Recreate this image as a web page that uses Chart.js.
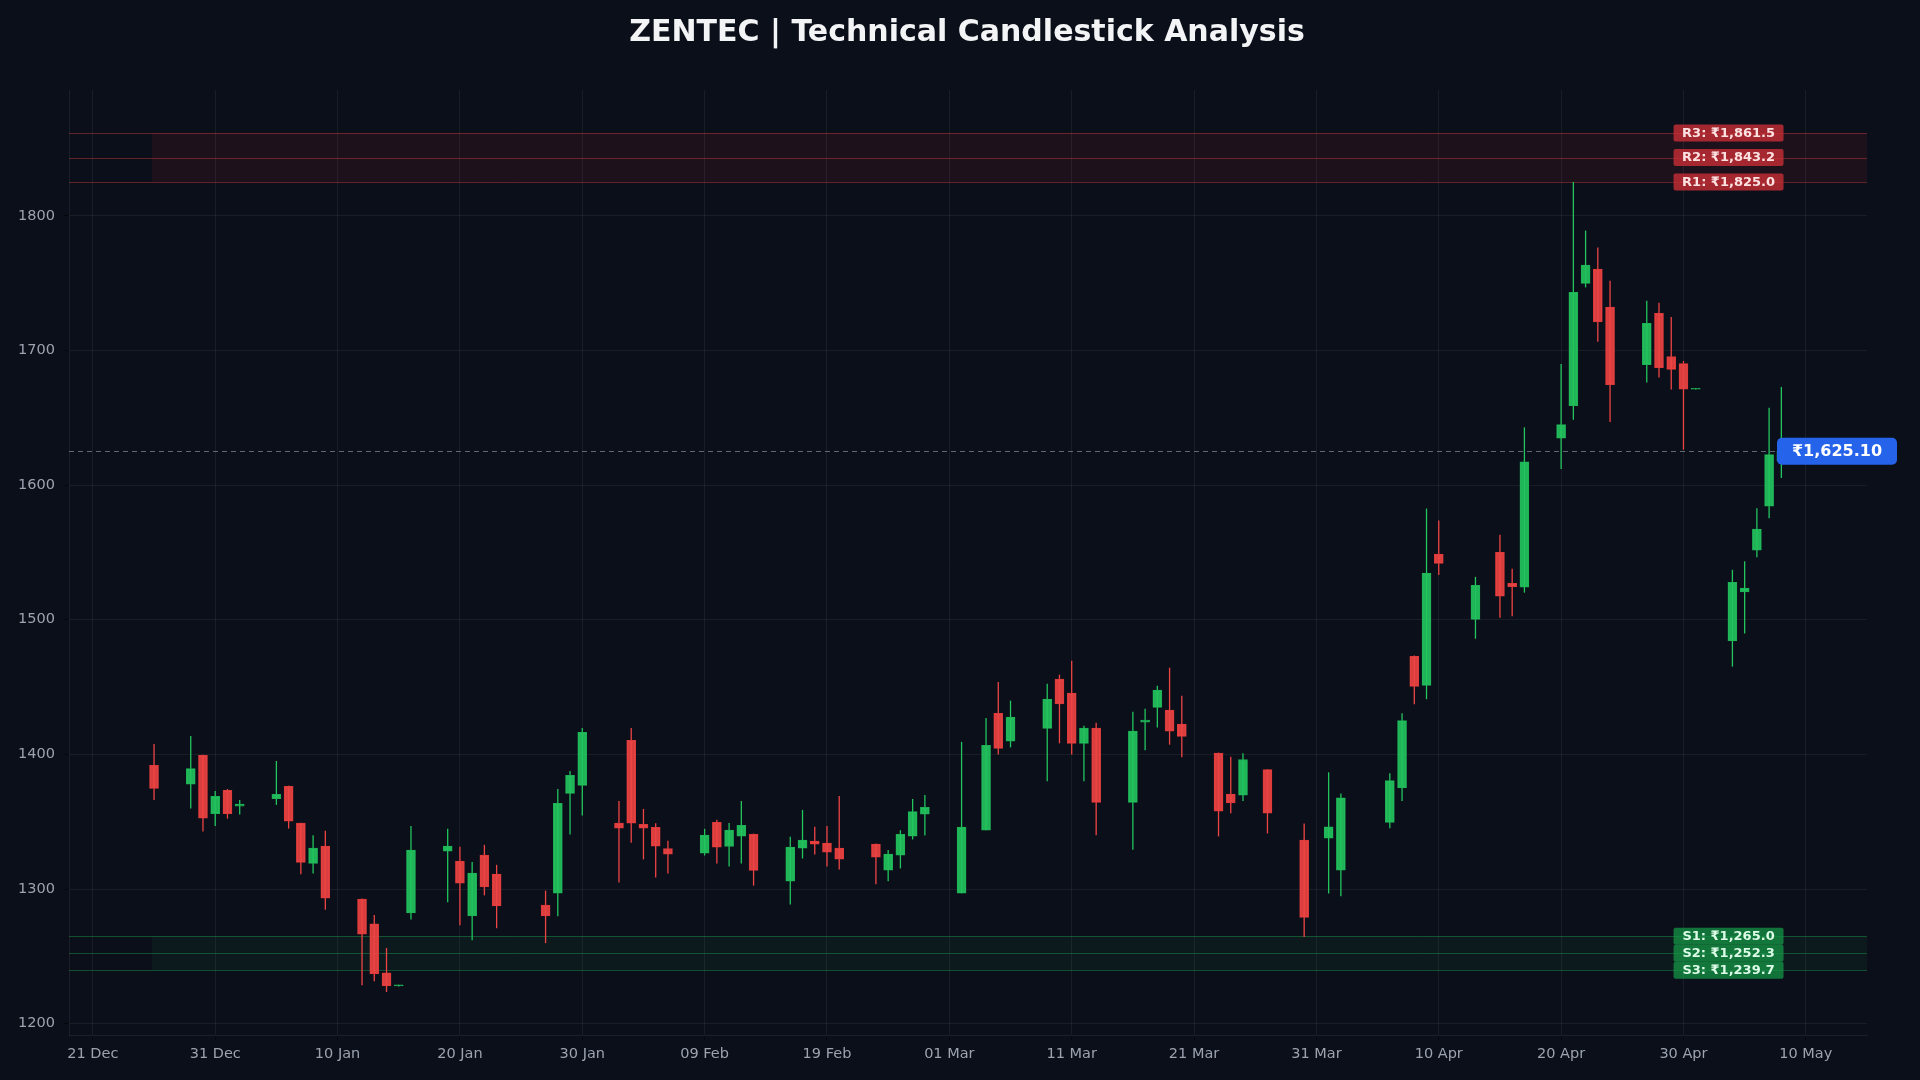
<!DOCTYPE html>
<html><head><meta charset="utf-8">
<script src="https://cdn.jsdelivr.net/npm/chart.js@4.4.1/dist/chart.umd.min.js"></script>
<style>html,body{margin:0;padding:0;background:#0b0f19;overflow:hidden}#wrap{width:1920px;height:1080px}</style>
</head><body><div id="wrap"><canvas id="c" width="1920" height="1080"></canvas></div>
<script>
// ---------- DATA ----------
const dates = ['2025-12-26','2025-12-29','2025-12-30','2025-12-31','2026-01-01','2026-01-02','2026-01-05','2026-01-06','2026-01-07','2026-01-08','2026-01-09','2026-01-12','2026-01-13','2026-01-14','2026-01-15','2026-01-16','2026-01-19','2026-01-20','2026-01-21','2026-01-22','2026-01-23','2026-01-27','2026-01-28','2026-01-29','2026-01-30','2026-02-02','2026-02-03','2026-02-04','2026-02-05','2026-02-06','2026-02-09','2026-02-10','2026-02-11','2026-02-12','2026-02-13','2026-02-16','2026-02-17','2026-02-18','2026-02-19','2026-02-20','2026-02-23','2026-02-24','2026-02-25','2026-02-26','2026-02-27','2026-03-02','2026-03-04','2026-03-05','2026-03-06','2026-03-09','2026-03-10','2026-03-11','2026-03-12','2026-03-13','2026-03-16','2026-03-17','2026-03-18','2026-03-19','2026-03-20','2026-03-23','2026-03-24','2026-03-25','2026-03-27','2026-03-30','2026-04-01','2026-04-02','2026-04-06','2026-04-07','2026-04-08','2026-04-09','2026-04-10','2026-04-13','2026-04-15','2026-04-16','2026-04-17','2026-04-20','2026-04-21','2026-04-22','2026-04-23','2026-04-24','2026-04-27','2026-04-28','2026-04-29','2026-04-30','2026-05-01','2026-05-04','2026-05-05','2026-05-06','2026-05-07','2026-05-08'];
const opens  = [1391.9,1377.8,1399.3,1356.0,1373.3,1361.5,1367.2,1376.3,1348.9,1319.0,1331.9,1292.6,1274.1,1237.8,1228.0,1282.2,1328.1,1320.7,1280.0,1325.2,1311.1,1288.1,1297.0,1371.1,1377.0,1348.9,1410.4,1348.1,1345.9,1330.1,1326.7,1349.6,1331.6,1339.3,1340.7,1305.9,1330.4,1335.6,1334.1,1330.4,1333.3,1314.1,1325.2,1339.3,1355.6,1297.0,1343.8,1430.5,1409.9,1419.3,1455.9,1445.5,1408.2,1419.6,1364.4,1424.0,1434.9,1432.9,1422.5,1401.0,1370.5,1369.7,1388.7,1336.4,1337.7,1314.1,1349.5,1375.1,1472.8,1451.3,1548.7,1500.3,1550.1,1527.1,1524.1,1634.9,1658.9,1749.8,1760.4,1732.1,1689.5,1727.5,1695.5,1690.2,1671.2,1484.2,1520.6,1551.7,1584.4,1618.0];
const highs  = [1407.7,1413.6,1399.8,1372.8,1374.3,1366.2,1395.1,1376.8,1349.3,1340.0,1343.2,1293.0,1280.7,1256.3,1229.0,1346.9,1344.7,1331.4,1320.0,1332.8,1318.0,1298.8,1374.3,1387.7,1419.5,1365.4,1419.5,1359.5,1348.9,1335.8,1344.7,1351.4,1349.1,1365.4,1341.2,1338.8,1358.8,1346.2,1346.9,1369.1,1333.8,1328.9,1343.7,1366.9,1369.9,1409.3,1427.0,1453.8,1439.9,1452.5,1459.2,1469.6,1421.3,1423.5,1431.7,1433.9,1451.0,1464.4,1443.6,1401.3,1398.3,1400.8,1389.0,1348.7,1386.7,1371.0,1385.9,1430.5,1473.5,1582.6,1573.6,1531.8,1563.1,1537.8,1642.9,1689.9,1825.0,1789.0,1776.4,1751.7,1736.8,1735.4,1724.8,1692.2,1671.9,1537.1,1543.4,1582.7,1657.5,1672.9];
const lows   = [1366.2,1359.8,1342.7,1346.9,1352.3,1355.3,1362.5,1344.9,1310.9,1311.6,1284.7,1228.6,1231.6,1223.5,1227.6,1277.3,1290.1,1273.1,1262.0,1295.3,1270.9,1259.8,1279.8,1340.5,1354.6,1304.9,1334.3,1322.0,1308.6,1311.6,1324.9,1319.0,1316.8,1319.0,1302.5,1288.6,1322.7,1325.7,1316.8,1314.6,1303.5,1305.7,1315.3,1336.8,1339.8,1296.8,1343.6,1399.9,1405.2,1380.0,1408.2,1400.0,1380.0,1339.9,1329.2,1403.0,1420.0,1407.2,1397.8,1339.1,1356.2,1365.4,1341.3,1264.4,1296.7,1294.6,1345.1,1365.4,1437.2,1441.0,1533.3,1485.9,1501.5,1502.5,1520.1,1611.9,1648.6,1746.8,1706.5,1646.9,1676.2,1679.9,1670.9,1626.3,1671.0,1465.2,1489.8,1546.4,1575.4,1605.3];
const closes = [1374.8,1389.4,1352.6,1368.9,1356.0,1363.0,1370.4,1350.4,1319.8,1330.4,1293.3,1266.4,1237.0,1228.1,1228.8,1328.9,1331.9,1304.4,1311.9,1301.5,1287.4,1280.0,1363.7,1384.4,1416.3,1345.2,1348.9,1345.2,1331.9,1325.9,1340.0,1331.1,1343.7,1347.4,1313.8,1331.1,1336.3,1333.3,1327.4,1322.2,1323.7,1325.9,1340.7,1357.5,1360.7,1346.0,1406.8,1404.5,1427.7,1441.1,1437.4,1408.2,1419.6,1364.4,1417.3,1425.5,1447.8,1417.3,1413.4,1357.9,1363.9,1396.2,1356.4,1279.0,1346.2,1367.7,1380.5,1425.1,1450.5,1534.6,1541.8,1525.6,1517.5,1524.5,1617.3,1644.9,1743.1,1763.4,1721.1,1674.5,1720.1,1687.2,1685.9,1671.2,1671.8,1527.8,1523.5,1567.4,1622.6,1625.1];

const resistanceNames = ['R1','R2','R3'];
const resistanceLevels = [1825.0, 1843.2, 1861.5];
const supportNames = ['S1','S2','S3'];
const supportLevels = [1265.0, 1252.3, 1239.7];
const currentPrice = 1625.10;

const xTickDays = [0,10,20,30,40,50,60,70,80,90,100,110,120,130,140];
const xTickLabels = ['21 Dec','31 Dec','10 Jan','20 Jan','30 Jan','09 Feb','19 Feb','01 Mar','11 Mar','21 Mar','31 Mar','10 Apr','20 Apr','30 Apr','10 May'];
const yTicks = [1200,1300,1400,1500,1600,1700,1800];
const titleText = 'ZENTEC | Technical Candlestick Analysis';

// ---------- helpers ----------
const BASE = Date.UTC(2025, 11, 21);
const dayOf = s => { const [Y,M,D] = s.split('-').map(Number); return (Date.UTC(Y, M-1, D) - BASE) / 86400000; };
const days = dates.map(dayOf);
function fmtRupee(v, dec){
  const parts = v.toFixed(dec).split('.');
  const i = parts[0];
  const out = i.length > 3 ? i.slice(0, i.length-3).replace(/\B(?=(\d{2})+(?!\d))/g, ',') + ',' + i.slice(-3) : i;
  return '\u20B9' + out + (dec ? '.' + parts[1] : '');
}

const BG = '#0b0f19';
const UP = 'rgba(34,197,94,0.9)', UP_B = '#1fae55';
const DN = 'rgba(239,68,68,0.9)', DN_B = '#d93a3a';
const isUp = i => closes[i] >= opens[i];

const wickData = days.map((d,i) => ({x: d, y: [lows[i], highs[i]]}));
const bodyData = days.map((d,i) => ({x: d, y: [opens[i], closes[i]]}));

Chart.defaults.font.family = "'DejaVu Sans', sans-serif";

const bgPlugin = {
  id: 'bg',
  beforeDraw(chart){
    const c = chart.ctx; c.save();
    c.fillStyle = BG; c.fillRect(0,0,chart.width,chart.height);
    c.fillStyle = '#f3f4f6';
    c.font = "bold 30px 'DejaVu Sans'";
    c.textAlign = 'center'; c.textBaseline = 'middle';
    c.fillText(titleText, 967, 33);
    c.restore();
  }
};

function badgeBox(chart){
  const a = chart.chartArea;
  return {x: a.right - 90, w: 120, h: 27};
}

const levelsPlugin = {
  id: 'levels',
  beforeDatasetsDraw(chart){
    const {ctx, chartArea: a, scales: {x, y}} = chart;
    const xStart = x.getPixelForValue(days[0]) - 2;
    ctx.save();
    ctx.beginPath(); ctx.rect(a.left, a.top, a.right - a.left, a.bottom - a.top); ctx.clip();
    function zone(levels, fill, line){
      const ys = levels.map(v => y.getPixelForValue(v));
      const top = Math.min(...ys), bot = Math.max(...ys);
      ctx.fillStyle = fill;
      ctx.fillRect(xStart, top, a.right - xStart, bot - top);
      ctx.strokeStyle = line; ctx.lineWidth = 1;
      ys.forEach(py => { ctx.beginPath(); ctx.moveTo(a.left, Math.round(py)+0.5); ctx.lineTo(a.right, Math.round(py)+0.5); ctx.stroke(); });
    }
    zone(resistanceLevels, 'rgba(239,68,68,0.08)', 'rgba(239,68,68,0.38)');
    zone(supportLevels, 'rgba(34,197,94,0.06)', 'rgba(34,197,94,0.35)');
    const py = Math.round(y.getPixelForValue(currentPrice)) + 0.5;
    ctx.setLineDash([5,4]);
    ctx.strokeStyle = 'rgba(156,163,175,0.6)';
    ctx.beginPath(); ctx.moveTo(a.left, py); ctx.lineTo(badgeBox(chart).x, py); ctx.stroke();
    ctx.restore();
  },
  afterDatasetsDraw(chart){
    const {ctx, chartArea: a, scales: {y}} = chart;
    ctx.save();
    const cx = a.left + (a.right - a.left) * 0.923;
    ctx.font = "bold 13px 'DejaVu Sans'";
    ctx.textAlign = 'center'; ctx.textBaseline = 'middle';
    function labels(names, levels, fill, txt){
      levels.forEach((v,i) => {
        const py = y.getPixelForValue(v);
        const w = 110, h = 17;
        ctx.fillStyle = fill;
        ctx.beginPath(); ctx.roundRect(cx - w/2, py - h/2, w, h, 2); ctx.fill();
        ctx.fillStyle = txt;
        ctx.fillText(names[i] + ': ' + fmtRupee(v, 1), cx, py + 0.5);
      });
    }
    labels(resistanceNames, resistanceLevels, 'rgba(200,45,52,0.8)', '#fde2e2');
    labels(supportNames, supportLevels, 'rgba(22,150,70,0.75)', '#dcfce7');
    const b = badgeBox(chart);
    const py = y.getPixelForValue(currentPrice);
    ctx.fillStyle = '#2563eb';
    ctx.beginPath(); ctx.roundRect(b.x, py - b.h/2, b.w, b.h, 5); ctx.fill();
    ctx.fillStyle = '#ffffff';
    ctx.font = "bold 16px 'DejaVu Sans'";
    ctx.fillText(fmtRupee(currentPrice, 2), b.x + b.w/2, py + 0.5);
    ctx.restore();
  }
};

new Chart(document.getElementById('c'), {
  type: 'bar',
  data: {
    datasets: [
      {
        label: 'body', data: bodyData, order: 0, grouped: false,
        barThickness: 9, borderWidth: 1, borderSkipped: false,
        backgroundColor: c => isUp(c.dataIndex) ? UP : DN,
        borderColor: c => isUp(c.dataIndex) ? UP_B : DN_B
      },
      {
        label: 'wick', data: wickData, order: 1, grouped: false,
        barThickness: 1.3, borderWidth: 0, inflateAmount: 0,
        backgroundColor: c => isUp(c.dataIndex) ? '#22c55e' : '#ef4444'
      }
    ]
  },
  options: {
    responsive: false, animation: false, devicePixelRatio: 1,
    layout: { padding: { left: 0, right: 53, top: 90, bottom: 0 } },
    plugins: { legend: { display: false }, tooltip: { enabled: false }, title: { display: false } },
    scales: {
      x: {
        type: 'linear', min: -1.95, max: 145, offset: false,
        afterBuildTicks: s => { s.ticks = xTickDays.map(v => ({value: v})); },
        afterFit: s => { s.height = 45; },
        ticks: { color: '#9ca3af', font: { size: 14.5 }, padding: 5, maxRotation: 0, autoSkip: false,
          callback: (v, i) => xTickLabels[i] },
        grid: { offset: false, color: 'rgba(255,255,255,0.06)', tickColor: '#05070c', tickLength: 6 },
        border: { color: 'rgba(255,255,255,0.07)' }
      },
      y: {
        type: 'linear', min: 1191.6, max: 1893.4,
        afterBuildTicks: s => { s.ticks = yTicks.map(v => ({value: v})); },
        afterFit: s => { s.width = 69; },
        ticks: { color: '#9ca3af', font: { size: 14.5 }, padding: 8, callback: v => String(v) },
        grid: { color: 'rgba(255,255,255,0.06)', tickColor: '#05070c', tickLength: 6 },
        border: { color: 'rgba(255,255,255,0.07)' }
      }
    }
  },
  plugins: [bgPlugin, levelsPlugin]
});
</script></body></html>
